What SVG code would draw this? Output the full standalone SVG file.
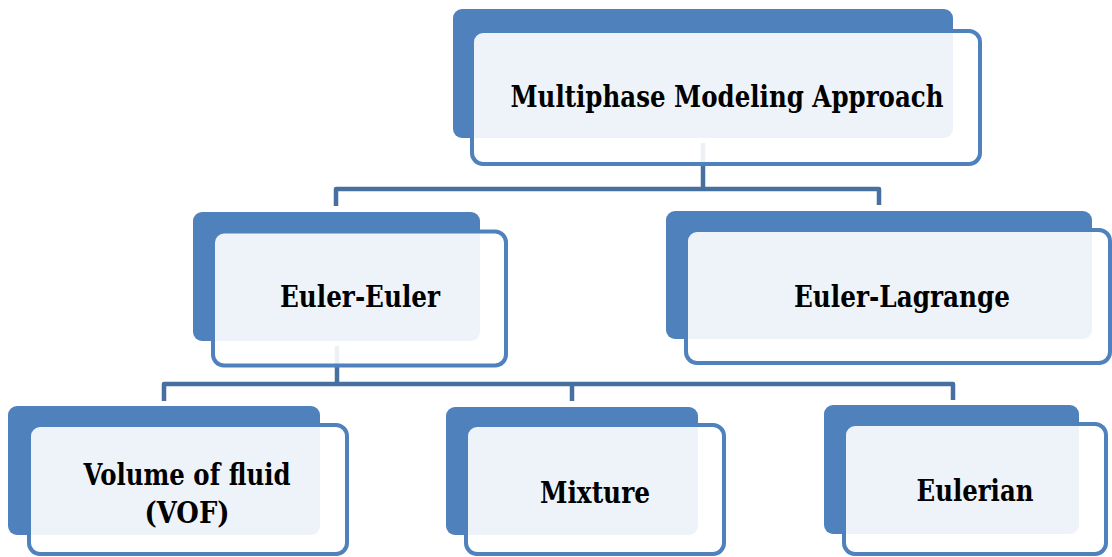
<svg xmlns="http://www.w3.org/2000/svg" width="1112" height="557" viewBox="0 0 1112 557">
  <style>
    .back { fill: #4F81BD; }
    .front { fill: #FFFFFF; fill-opacity: 0.9; stroke: #4F81BD; stroke-width: 4; }
    .wire { fill: none; stroke: #46709F; stroke-width: 4.5; stroke-linejoin: round; }
    .label { font-family: 'DejaVu Serif', 'Liberation Serif', serif; font-weight: 700; font-size: 29px; fill: #000000; text-anchor: middle; }
  </style>
  <rect width="1112" height="557" fill="#FFFFFF"/>

  <!-- connectors (drawn first so the translucent box faces wash over their ends) -->
  <g id="connectors">
    <path class="wire" d="M703 143 V189 H336 V206 M703 189 H879 V205"/>
    <path class="wire" d="M337 346 V384 H164 V401 M337 384 H953 V400 M572 384 V401"/>
  </g>

  <g id="node-root">
    <rect class="back" x="453" y="9" width="500" height="129" rx="9"/>
    <rect class="front" x="472" y="31" width="508" height="133" rx="11"/>
    <text class="label" x="727" y="107" textLength="433" lengthAdjust="spacingAndGlyphs">Multiphase Modeling Approach</text>
  </g>

  <g id="node-euler-euler">
    <rect class="back" x="193" y="212" width="287" height="129" rx="9"/>
    <rect class="front" x="213" y="231.5" width="293" height="134" rx="11"/>
    <text class="label" x="360" y="307" textLength="160" lengthAdjust="spacingAndGlyphs">Euler-Euler</text>
  </g>

  <g id="node-euler-lagrange">
    <rect class="back" x="666" y="211" width="426" height="128" rx="9"/>
    <rect class="front" x="686" y="230" width="424" height="133" rx="11"/>
    <text class="label" x="902" y="307" textLength="216" lengthAdjust="spacingAndGlyphs">Euler-Lagrange</text>
  </g>

  <g id="node-vof">
    <rect class="back" x="8" y="406" width="312" height="129" rx="9"/>
    <rect class="front" x="29" y="425" width="318" height="129" rx="11"/>
    <text class="label" x="187" y="485" textLength="207" lengthAdjust="spacingAndGlyphs">Volume of fluid</text>
    <text class="label" x="187" y="523" textLength="85" lengthAdjust="spacingAndGlyphs">(VOF)</text>
  </g>

  <g id="node-mixture">
    <rect class="back" x="446" y="407" width="252" height="128" rx="9"/>
    <rect class="front" x="466" y="425" width="258" height="129" rx="11"/>
    <text class="label" x="595" y="503" textLength="110" lengthAdjust="spacingAndGlyphs">Mixture</text>
  </g>

  <g id="node-eulerian">
    <rect class="back" x="824" y="405" width="255" height="129" rx="9"/>
    <rect class="front" x="844" y="424" width="262" height="130" rx="11"/>
    <text class="label" x="975" y="501" textLength="117" lengthAdjust="spacingAndGlyphs">Eulerian</text>
  </g>
</svg>
